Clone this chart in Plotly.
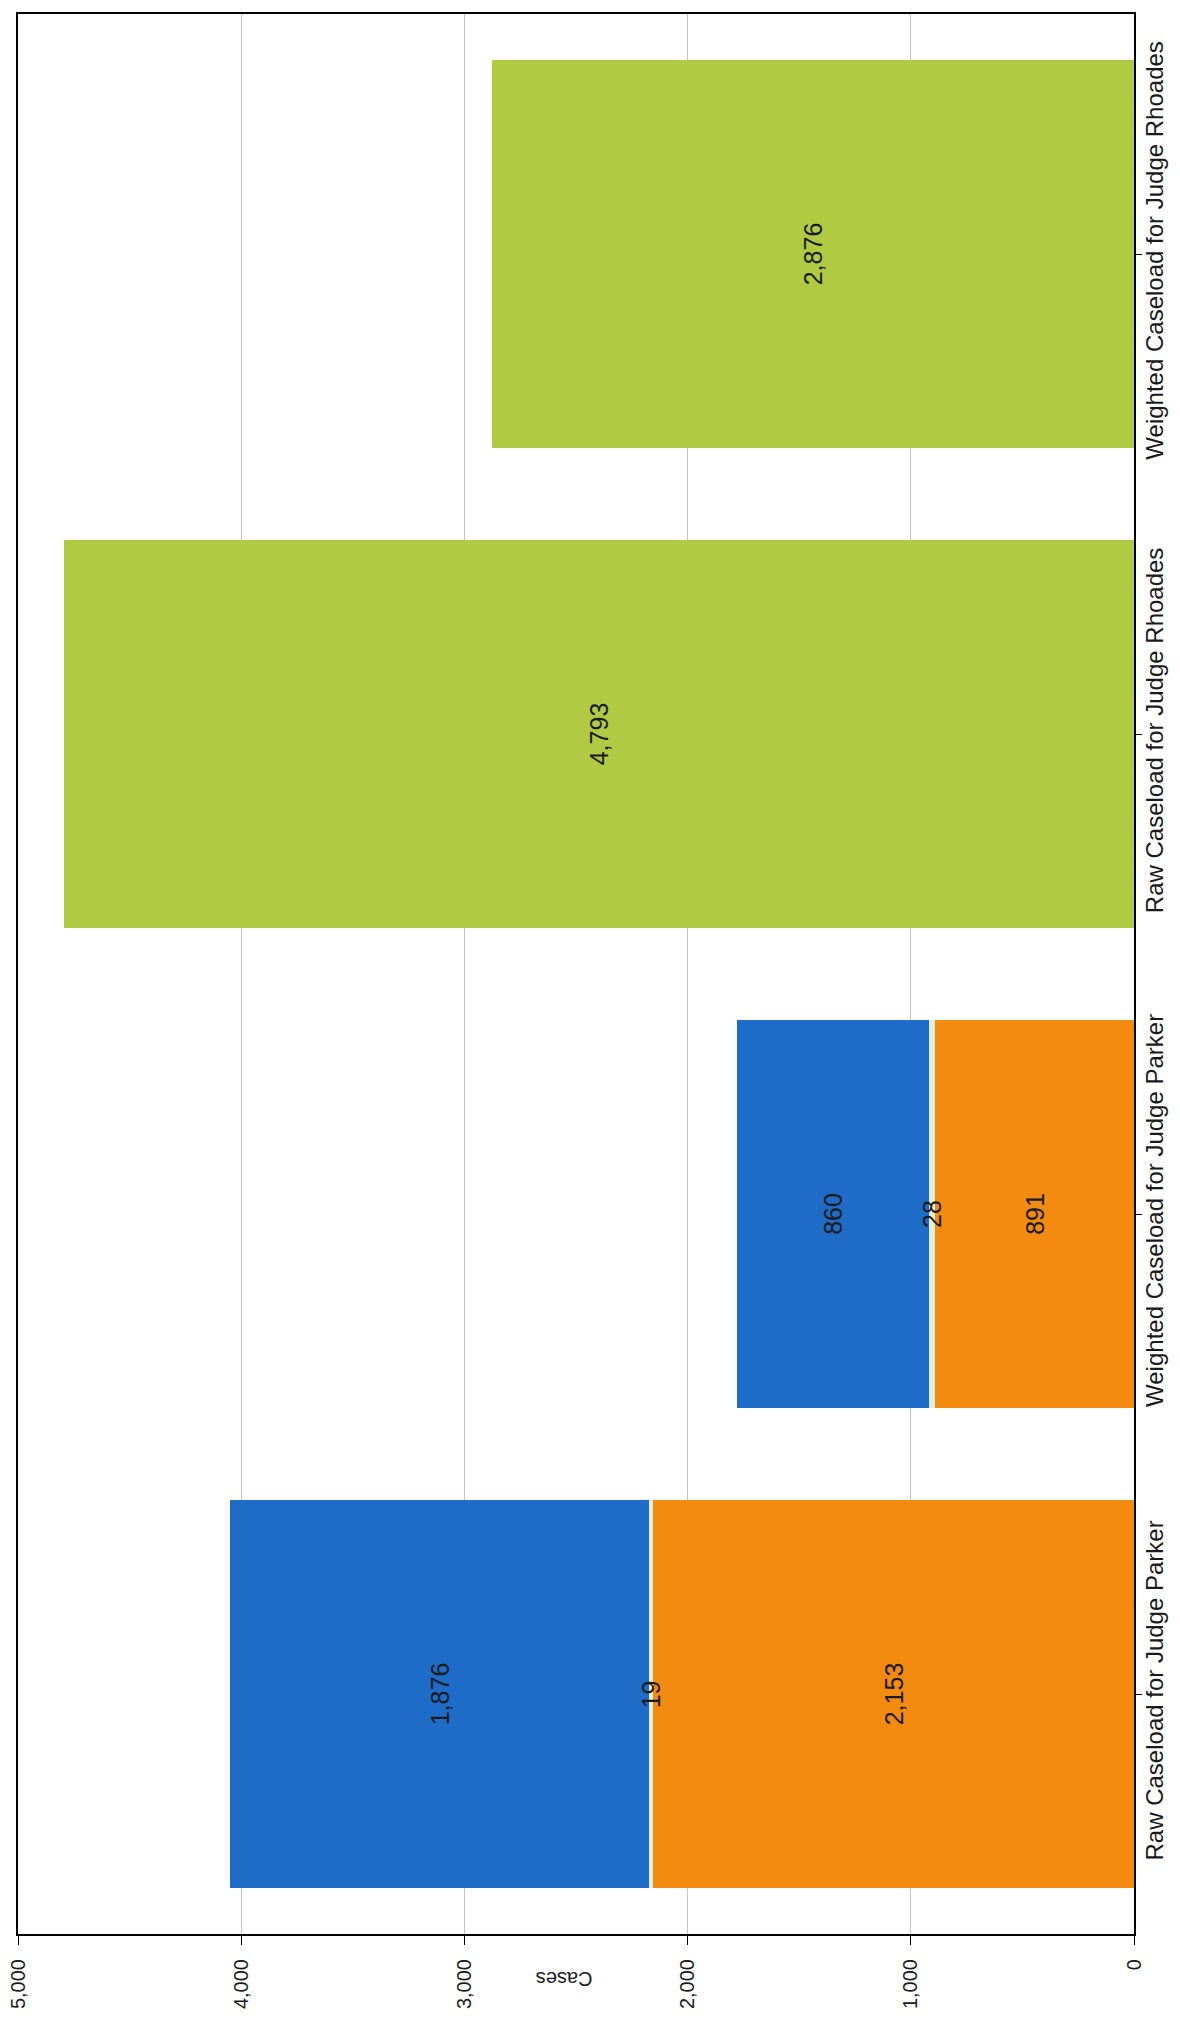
import plotly.graph_objects as go

categories = [
    "Raw Caseload for Judge Parker",
    "Weighted Caseload for Judge Parker",
    "Raw Caseload for Judge Rhoades",
    "Weighted Caseload for Judge Rhoades",
]
orange_vals = [2153, 891, None, None]
thin_vals = [19, 28, None, None]
blue_vals = [1876, 860, None, None]
green_vals = [None, None, 4793, 2876]
x_tick_vals = [0, 1000, 2000, 3000, 4000, 5000]
x_tick_text = ["0", "1,000", "2,000", "3,000", "4,000", "5,000"]
axis_title = "Cases"

FONT = "Liberation Sans, Arial, sans-serif"
LABEL_SIZE = 25

fig = go.Figure()
series = [
    ("Series 1", orange_vals, "#F38B10", True),
    ("Series 2", thin_vals, "#E4F0D6", False),
    ("Series 3", blue_vals, "#1E6BC8", True),
    ("Series 4", green_vals, "#B1CA44", True),
]
for name, vals, color, show_text in series:
    fig.add_trace(go.Bar(
        y=categories, x=vals, name=name, orientation="h",
        marker=dict(color=color, line=dict(width=0)),
        texttemplate="%{x:,}" if show_text else None,
        textposition="inside" if show_text else "none",
        textangle=-90,
        insidetextanchor="middle", constraintext="none",
        textfont=dict(family=FONT, size=LABEL_SIZE, color="#1a1a1a"),
    ))

# labels of the thin middle segments, drawn on top of the neighbouring bars
for cat, base, val in zip(categories, orange_vals, thin_vals):
    if val is None:
        continue
    fig.add_annotation(
        x=base + val / 2, y=cat, xref="x", yref="y",
        text=f"{val:,}", showarrow=False, textangle=-90,
        font=dict(family=FONT, size=LABEL_SIZE, color="#1a1a1a"),
    )

fig.update_layout(
    barmode="stack", bargap=0.19,
    width=1180, height=2037,
    margin=dict(l=10, r=54, t=6, b=111),
    paper_bgcolor="white", plot_bgcolor="white",
    showlegend=False,
    font=dict(family=FONT, color="#1a1a1a"),
)
fig.update_xaxes(
    range=[5000, 0], tickvals=x_tick_vals, ticktext=x_tick_text,
    tickangle=-90, tickfont=dict(size=20, family=FONT, color="#1a1a1a"),
    showgrid=True, gridcolor="#c4c4c4", gridwidth=1,
    showline=True, linecolor="black", linewidth=2, mirror=True,
    ticks="outside", ticklen=9, tickcolor="black", zeroline=False,
    ticklabelstandoff=6, automargin=False, ticklabeloverflow="allow",
)
fig.update_yaxes(
    side="right", tickangle=-90,
    tickfont=dict(size=24, family=FONT, color="#1a1a1a"),
    showline=True, linecolor="black", linewidth=2, mirror=True,
    ticks="outside", ticklen=6, tickcolor="black", showgrid=False,
    automargin=False, ticklabelstandoff=-8, ticklabeloverflow="allow",
)
fig.add_annotation(
    text=axis_title, xref="paper", yref="paper", x=0.489, y=-0.0234,
    yanchor="middle", showarrow=False, textangle=180,
    font=dict(size=20, family=FONT, color="#1a1a1a"),
)
fig.write_html("out.html")
